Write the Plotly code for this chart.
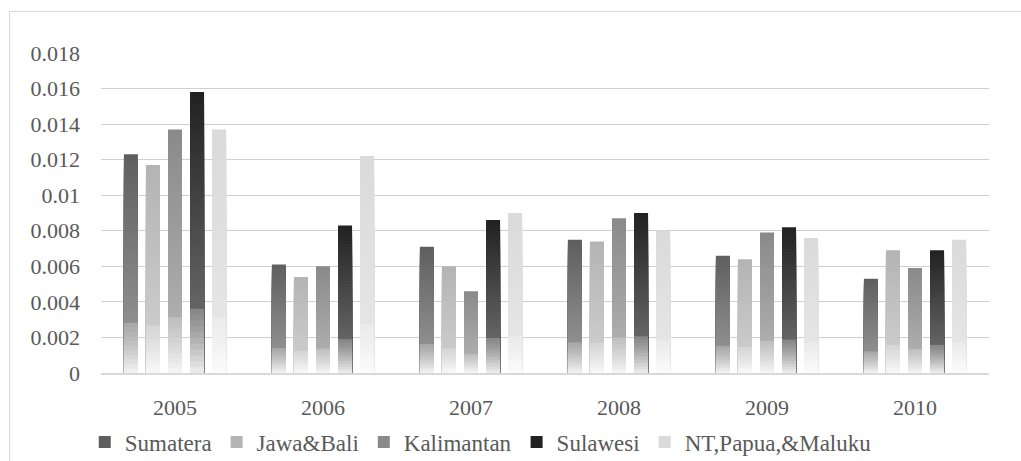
import plotly.graph_objects as go

# Yearly values per region
years = ["2005", "2006", "2007", "2008", "2009", "2010"]
sumatera = [0.0123, 0.0061, 0.0071, 0.0075, 0.0066, 0.0053]
jawa_bali = [0.0117, 0.0054, 0.0060, 0.0074, 0.0064, 0.0069]
kalimantan = [0.0137, 0.0060, 0.0046, 0.0087, 0.0079, 0.0059]
sulawesi = [0.0158, 0.0083, 0.0086, 0.0090, 0.0082, 0.0069]
nt_papua_maluku = [0.0137, 0.0122, 0.0090, 0.0080, 0.0076, 0.0075]
y_ticks = [0, 0.002, 0.004, 0.006, 0.008, 0.01, 0.012, 0.014, 0.016, 0.018]
y_tick_labels = ["0", "0.002", "0.004", "0.006", "0.008", "0.01", "0.012", "0.014", "0.016", "0.018"]

series = [
    ("Sumatera", sumatera, 95),
    ("Jawa&Bali", jawa_bali, 180),
    ("Kalimantan", kalimantan, 138),
    ("Sulawesi", sulawesi, 34),
    ("NT,Papua,&Maluku", nt_papua_maluku, 218),
]

BAR_W = 0.0946
PITCH = 0.149
LEVELS = 48


def lighten(t):
    """Amount of white mixed in at depth t (0 = bar top, 1 = bar bottom)."""
    knee = 0.76
    if t < knee:
        return 0.30 * t / knee
    return 0.45 + 0.50 * ((t - knee) / (1 - knee)) ** 1.2


fig = go.Figure()
for i, (name, vals, grey) in enumerate(series):
    offset = (i - 2) * PITCH - BAR_W / 2
    # overlapping bars from the top colour down, each shorter one drawn on top,
    # giving a vertical fade towards the baseline
    for k in range(LEVELS):
        t = k / LEVELS
        g = round(grey + (255 - grey) * lighten(t))
        frac = 1 - t
        fig.add_trace(go.Bar(
            x=years,
            y=[v * frac for v in vals],
            name=name,
            legendgroup=name,
            showlegend=(k == 0),
            marker=dict(color=f"rgb({g},{g},{g})", line=dict(width=0)),
            width=BAR_W,
            offset=offset,
            hoverinfo="skip" if k else None,
        ))

serif = "Liberation Serif, DejaVu Serif, serif"
tick_font = dict(family=serif, size=22, color="#595959")

fig.update_layout(
    width=1021,
    height=461,
    barmode="overlay",
    plot_bgcolor="white",
    paper_bgcolor="white",
    margin=dict(l=101, r=32, t=53, b=88, autoexpand=False),
    xaxis=dict(
        type="category",
        automargin=False,
        showgrid=False,
        showline=True,
        linecolor="#d9d9d9",
        linewidth=1.5,
        ticks="",
        tickfont=tick_font,
        ticklabelstandoff=14,
    ),
    yaxis=dict(
        range=[0, 0.018],
        automargin=False,
        tickvals=y_ticks,
        ticktext=y_tick_labels,
        showgrid=True,
        gridcolor="#d0d0d0",
        gridwidth=1,
        zeroline=False,
        showline=False,
        ticks="",
        tickfont=tick_font,
        ticklabelstandoff=20,
    ),
    legend=dict(
        orientation="h",
        xref="container",
        yref="container",
        x=0.083,
        xanchor="left",
        y=0.041,
        yanchor="middle",
        font=dict(family=serif, size=23, color="#595959"),
        itemwidth=30,
        traceorder="normal",
    ),
    shapes=[
        dict(type="rect", xref="paper", yref="paper",
             x0=(9.5 - 101) / 888, x1=1.1, y0=-0.4, y1=(373 - 11.5) / 320,
             line=dict(color="#d9d9d9", width=1), fillcolor="rgba(0,0,0,0)", layer="below"),
    ],
)

fig.write_html("out.html")
